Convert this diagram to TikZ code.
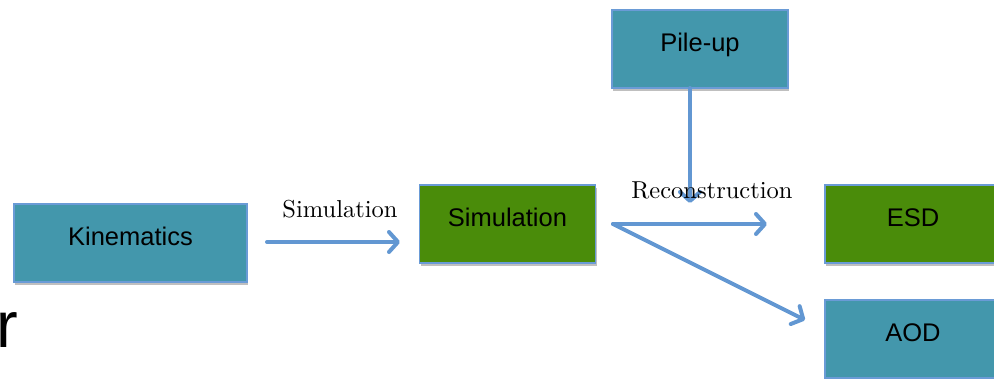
\documentclass[tikz,border=0pt]{standalone}
\usepackage{fontspec}
\newfontfamily\lblfont{lmroman10-regular.otf}
\newfontfamily\boxfont{Liberation Sans}
\usetikzlibrary{arrows.meta,shadows}
\definecolor{tealbox}{HTML}{4397AC}
\definecolor{greenbox}{HTML}{4A8C0A}
\definecolor{edgeblue}{HTML}{6A9BD6}
\definecolor{arrowblue}{HTML}{6297D2}
\tikzset{
  boxbase/.style={draw=edgeblue, line width=1.2pt, minimum width=176pt, minimum height=78pt,
    inner sep=0pt, font=\boxfont\fontsize{25.5}{28}\selectfont, text height=18pt, text depth=14pt,
    drop shadow={shadow xshift=1pt, shadow yshift=-3pt, opacity=0.25, fill=black}},
  tealnode/.style={boxbase, fill=tealbox},
  greennode/.style={boxbase, fill=greenbox},
  flow/.style={draw=arrowblue, line width=4pt, -{Straight Barb[length=9pt,width=20pt,line cap=round,line join=round]}, line cap=round},
  lbl/.style={font=\lblfont\fontsize{24.5}{28}\selectfont, anchor=base, inner sep=0pt}
}
\begin{document}
\begin{tikzpicture}[x=1pt,y=-1pt]
\path[use as bounding box, clip] (0,0) rectangle (994,378);
\node[tealnode, minimum width=233pt] (kin) at (130.5,243) {Kinematics};
\node[greennode] (sim) at (507.5,224) {Simulation};
\node[tealnode] (pile) at (700,49) {Pile-up};
\node[greennode] (esd) at (913,224) {ESD};
\node[tealnode] (aod) at (913,339) {AOD};
\node[font=\boxfont\fontsize{65}{70}\selectfont, anchor=base west, inner sep=0pt] (rr) at (-4,347) {r};
\coordinate (k1) at (267,242);
\coordinate (s0) at (400,242);
\coordinate (fork) at (613,224);
\coordinate (e1) at (767,224);
\coordinate (a1) at (805,320);
\coordinate (p0) at (690,88);
\coordinate (p1) at (690,203);
\draw[flow] (k1) -- (s0);
\draw[flow] (fork) -- (e1);
\draw[flow] (fork) -- (a1);
\draw[flow] (p0) -- (p1);
\node[lbl] (lsim) at (340,217) {Simulation};
\node[lbl] (lrec) at (712,198) {Reconstruction};
\end{tikzpicture}
\end{document}
